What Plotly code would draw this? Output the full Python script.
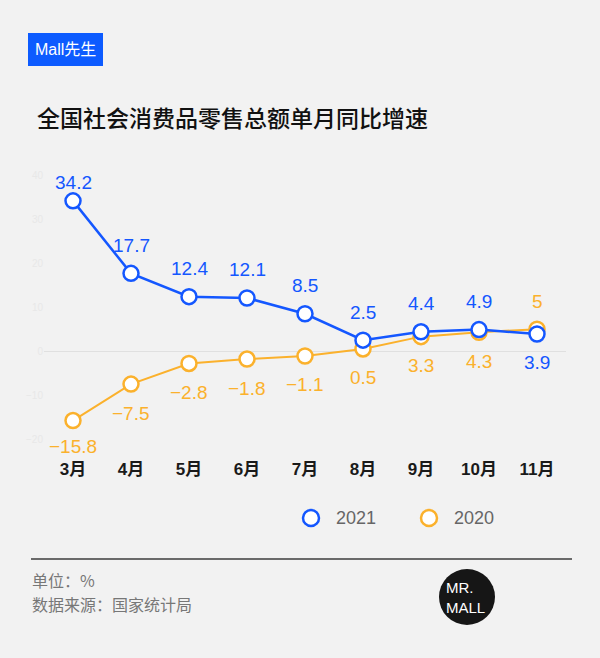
import plotly.graph_objects as go

months = ['3月', '4月', '5月', '6月', '7月', '8月', '9月', '10月', '11月']
growth_2021 = [34.2, 17.7, 12.4, 12.1, 8.5, 2.5, 4.4, 4.9, 3.9]
growth_2020 = [-15.8, -7.5, -2.8, -1.8, -1.1, 0.5, 3.3, 4.3, 5]
y_ticks = [-20, -10, 0, 10, 20, 30, 40]

blue = '#1457ff'
orange = '#fbb12c'
bg = '#f2f2f2'
cjk = 'Noto Sans CJK SC'
num = 'Liberation Sans, Noto Sans CJK SC'

# plot area is 44..566 px across and 160..450 px down
def px(x):
    return (x - 44) / 522

def py(y):
    return (450 - y) / 290

fig = go.Figure()
fig.add_trace(go.Scatter(
    x=months, y=growth_2020, mode='lines+markers', name='2020',
    line=dict(color=orange, width=2),
    marker=dict(size=15, color='white', line=dict(color=orange, width=2.5)),
    showlegend=False, hoverinfo='skip'))
fig.add_trace(go.Scatter(
    x=months, y=growth_2021, mode='lines+markers', name='2021',
    line=dict(color=blue, width=2.5),
    marker=dict(size=15, color='white', line=dict(color=blue, width=2.5)),
    showlegend=False, hoverinfo='skip'))

# value labels: 2021 above, 2020 below, except the last month where they swap
for i, m in enumerate(months):
    up = 28 if i < len(months) - 1 else -28
    if i == 0:
        up = 18
    fig.add_annotation(x=m, y=growth_2021[i], text=str(growth_2021[i]), showarrow=False,
                       yshift=up, font=dict(family=num, size=19, color=blue))
    down = -29 if i < len(months) - 1 else 28
    if i == 0:
        down = -26
    txt = str(growth_2020[i]).replace('-', '−')
    fig.add_annotation(x=m, y=growth_2020[i], text=txt, showarrow=False,
                       yshift=down, font=dict(family=num, size=19, color=orange))

def note(x, y, text, font, xanchor='center', align='center'):
    fig.add_annotation(xref='paper', yref='paper', x=px(x), y=py(y), text=text,
                       showarrow=False, xanchor=xanchor, yanchor='middle',
                       align=align, font=font)

# badge and title
fig.add_shape(type='rect', xref='paper', yref='paper', x0=px(28), x1=px(103),
              y0=py(66), y1=py(33), fillcolor='#0d5bff', line_width=0)
note(65.5, 49.5, 'Mall先生', dict(family=num, size=16, color='white'))
note(35, 117, '全国社会消费品零售总额单月同比增速',
     dict(family=cjk, size=23, color='#111111', weight=500), xanchor='left')

# legend drawn by hand
for cx, col, lab in [(311, blue, '2021'), (429, orange, '2020')]:
    fig.add_shape(type='circle', xref='paper', yref='paper',
                  x0=px(cx - 8), x1=px(cx + 8), y0=py(518 + 8), y1=py(518 - 8),
                  fillcolor='white', line=dict(color=col, width=2.5))
    note(cx + 23, 518, lab, dict(family=num, size=18, color='#666666'), xanchor='left')

fig.add_shape(type='line', xref='paper', yref='paper', x0=px(31), x1=px(572),
              y0=py(559), y1=py(559), line=dict(color='#6a6a6a', width=2))

note(30, 580, '单位：%', dict(family=cjk, size=16, color='#777777'), xanchor='left')
note(30, 604, '数据来源：国家统计局', dict(family=cjk, size=16, color='#777777'), xanchor='left')

# logo
fig.add_shape(type='circle', xref='paper', yref='paper',
              x0=px(467 - 28), x1=px(467 + 28), y0=py(597 + 28), y1=py(597 - 28),
              fillcolor='#161616', line_width=0)
note(465, 597, 'MR.<br>MALL',
     dict(family='Liberation Sans Narrow, Liberation Sans', size=15, color='white'),
     align='left')

fig.update_layout(
    width=600, height=658,
    margin=dict(l=44, r=34, t=160, b=208),
    paper_bgcolor=bg, plot_bgcolor=bg,
    xaxis=dict(range=[-0.5, 8.5], showgrid=False, zeroline=False, showline=False,
               ticks='', ticklabelstandoff=7,
               tickfont=dict(family=num, size=17, color='#1a1a1a', weight='bold')),
    yaxis=dict(range=[-22.5, 43.5], tickvals=y_ticks, showgrid=False,
               zeroline=True, zerolinecolor='#e0e0e0', zerolinewidth=1,
               showline=False, ticks='',
               tickfont=dict(family=num, size=10, color='#e8e8e8')),
)

fig.write_html('out.html', config={'displayModeBar': False},
               post_script="document.body.style.margin='0';")
